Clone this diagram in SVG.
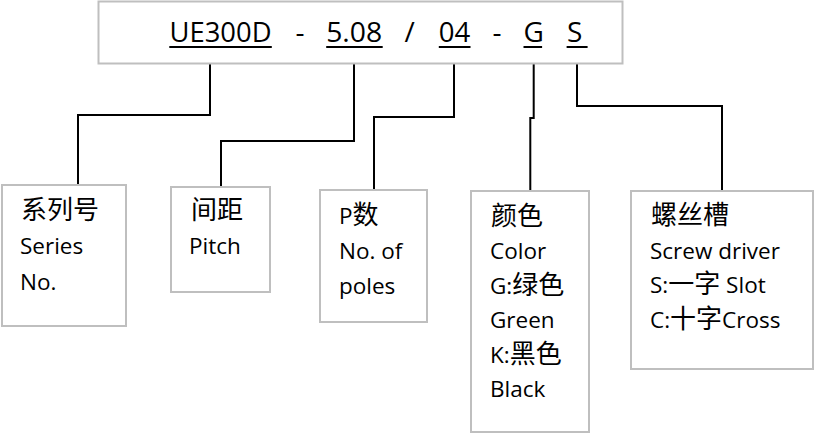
<svg xmlns="http://www.w3.org/2000/svg" width="814" height="433" viewBox="0 0 814 433">
<style>
.box{fill:#fff;stroke:#bfbfbf;stroke-width:2}
.conn{fill:none;stroke:#000;stroke-width:2}
.ul{stroke:#000;stroke-width:2}
.code{font-family:"Open Sans","Noto Sans CJK SC",sans-serif;font-size:28px;fill:#000}
.t{font-family:"Open Sans","Noto Sans CJK SC",sans-serif;font-size:22.5px;fill:#000}
.cjk{font-family:"Noto Sans CJK SC",sans-serif;font-size:26px}
</style>
<rect width="814" height="433" fill="#fff"/>
<g id="connectors">
<path class="conn" d="M210,48 V115 H78 V185"/>
<path class="conn" d="M354,48 V141 H221 V187"/>
<path class="conn" d="M454,48 V117 H374 V190"/>
<path class="conn" d="M533.7,48 V118 H530.3 V191"/>
<path class="conn" d="M577,48 V106 H722 V191"/>
</g>
<g id="code">
<rect class="box" x="98.5" y="1.5" width="524" height="62"/>
<text class="code" x="169.5" y="42" textLength="102" lengthAdjust="spacingAndGlyphs">UE300D</text>
<text class="code" x="295.5" y="42">-</text>
<text class="code" x="326.2" y="42" textLength="56" lengthAdjust="spacingAndGlyphs">5.08</text>
<text class="code" x="404.5" y="42">/</text>
<text class="code" x="438.8" y="42" textLength="31.5" lengthAdjust="spacingAndGlyphs">04</text>
<text class="code" x="492.5" y="42">-</text>
<text class="code" x="523.5" y="42">G</text>
<text class="code" x="567" y="42">S</text>
<line class="ul" x1="169.3" y1="47" x2="271.8" y2="47"/>
<line class="ul" x1="326.2" y1="47" x2="382.7" y2="47"/>
<line class="ul" x1="438.8" y1="47" x2="470.5" y2="47"/>
<line class="ul" x1="523.5" y1="47" x2="542.1" y2="47"/>
<line class="ul" x1="566.6" y1="47" x2="587.6" y2="47"/>
</g>
<g id="series">
<rect class="box" x="2" y="185" width="124" height="141"/>
<text class="t" x="21" y="219"><tspan class="cjk">系列号</tspan></text>
<text class="t" x="20" y="254">Series</text>
<text class="t" x="20" y="289.5">No.</text>
</g>
<g id="pitch">
<rect class="box" x="171" y="187" width="99" height="105"/>
<text class="t" x="191" y="219"><tspan class="cjk">间距</tspan></text>
<text class="t" x="189" y="254">Pitch</text>
</g>
<g id="poles">
<rect class="box" x="320" y="190" width="107" height="132"/>
<text class="t" x="339" y="224">P<tspan class="cjk">数</tspan></text>
<text class="t" x="339" y="259">No. of</text>
<text class="t" x="339" y="293.5">poles</text>
</g>
<g id="color">
<rect class="box" x="471" y="191" width="118" height="241"/>
<text class="t" x="491" y="224.5"><tspan class="cjk">颜色</tspan></text>
<text class="t" x="490" y="259">Color</text>
<text class="t" x="490" y="293.5">G:<tspan class="cjk">绿色</tspan></text>
<text class="t" x="490" y="328">Green</text>
<text class="t" x="490" y="362.5">K:<tspan class="cjk">黑色</tspan></text>
<text class="t" x="490" y="397">Black</text>
</g>
<g id="screw">
<rect class="box" x="631" y="191" width="182" height="178"/>
<text class="t" x="651" y="224"><tspan class="cjk">螺丝槽</tspan></text>
<text class="t" x="650" y="258.5">Screw driver</text>
<text class="t" x="650" y="293">S:<tspan class="cjk">一字</tspan> Slot</text>
<text class="t" x="650" y="327.5">C:<tspan class="cjk">十字</tspan>Cross</text>
</g>
</svg>
